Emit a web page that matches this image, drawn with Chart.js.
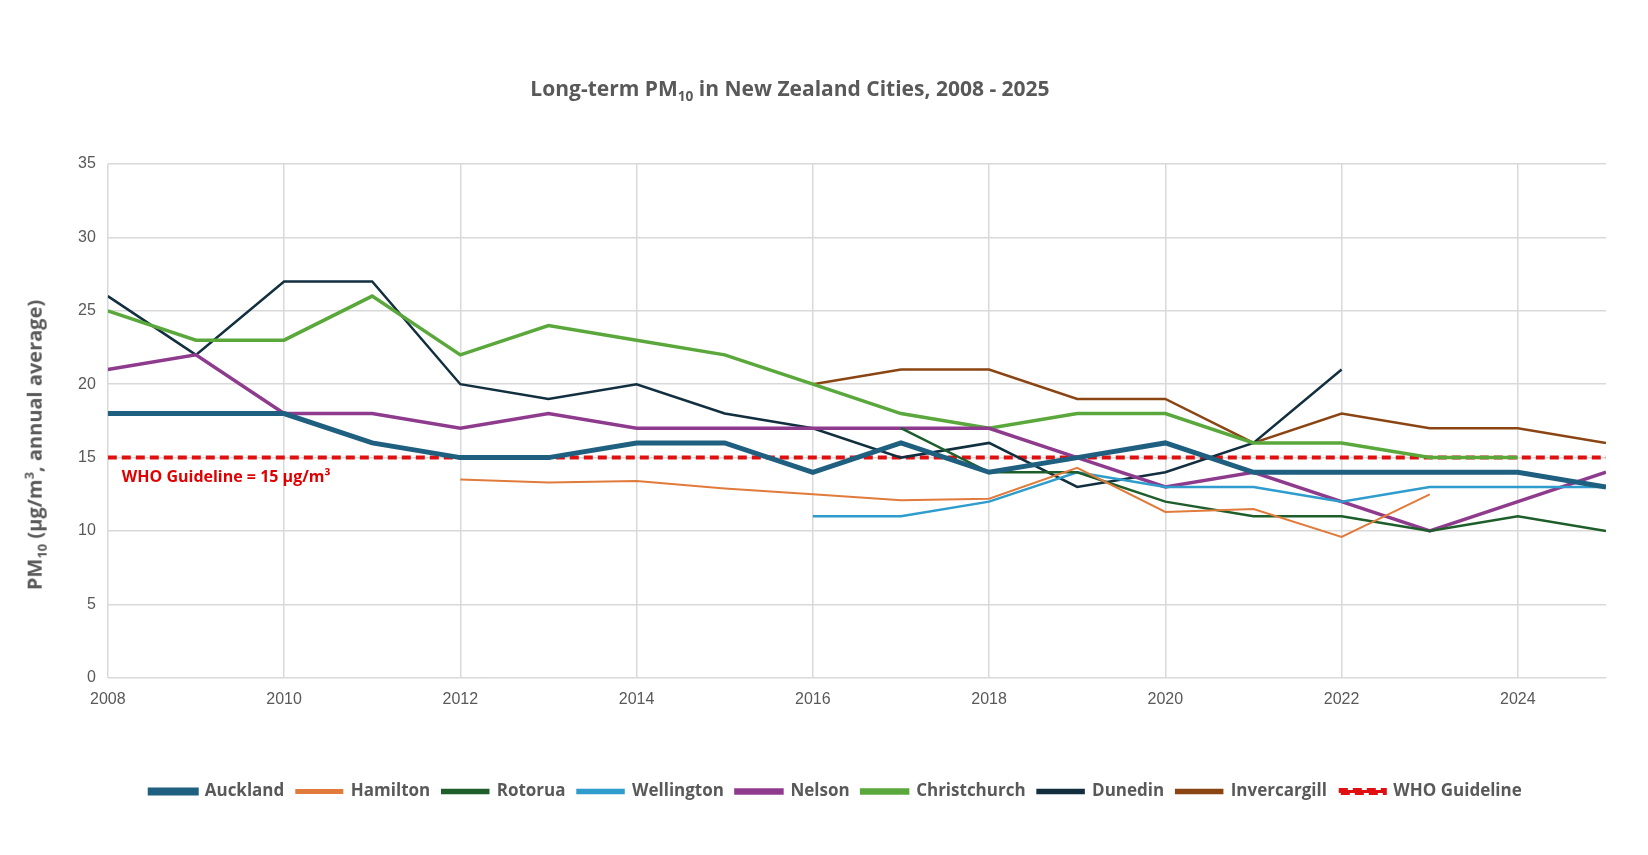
<!DOCTYPE html>
<html><head><meta charset="utf-8">
<script src="https://cdn.jsdelivr.net/npm/chart.js@4"></script>
<style>
body{margin:0;background:#fff;font-family:"Open Sans",sans-serif;}
#wrap{position:relative;width:1648px;height:855px;}
#title{position:absolute;top:74px;left:0;width:1580px;text-align:center;font-size:21px;font-weight:bold;color:#595959;}
#ytitle{position:absolute;left:35px;top:445px;transform:translate(-50%,-50%) rotate(-90deg);white-space:nowrap;font-size:20px;font-weight:bold;color:#595959;}
sub,sup{font-size:65%;}
</style></head><body>
<div id="wrap">
<canvas id="c" width="1648" height="855"></canvas>
<div id="title">Long-term PM<sub>10</sub> in New Zealand Cities, 2008 - 2025</div>
<div id="ytitle">PM<sub>10</sub> (µg/m<sup>3</sup>, annual average)</div>
</div>
<script>
const years=[2008,2009,2010,2011,2012,2013,2014,2015,2016,2017,2018,2019,2020,2021,2022,2023,2024,2025];
const auckland=[18,18,18,16,15,15,16,16,14,16,14,15,16,14,14,14,14,13];
const hamilton=[null,null,null,null,13.5,13.3,13.4,12.9,12.5,12.1,12.2,14.3,11.3,11.5,9.6,12.5,null,null];
const rotorua=[null,null,null,null,null,null,null,null,null,17,14,14,12,11,11,10,11,10];
const wellington=[null,null,null,null,null,null,null,null,11,11,12,14,13,13,12,13,13,13];
const nelson=[21,22,18,18,17,18,17,17,17,17,17,15,13,14,12,10,12,14];
const christchurch=[25,23,23,26,22,24,23,22,20,18,17,18,18,16,16,15,15,null];
const dunedin=[26,22,27,27,20,19,20,18,17,15,16,13,14,16,21,null,null,null];
const invercargill=[null,null,null,null,null,null,null,null,20,21,21,19,19,16,18,17,17,16];
const who=years.map(()=>15);
const yTicks=[0,5,10,15,20,25,30,35];
const xTicks=[2008,2010,2012,2014,2016,2018,2020,2022,2024];
const pts=a=>a.map((v,i)=>({x:years[i],y:v}));
const ds=(label,data,color,w,extra={})=>Object.assign({label,data:pts(data),borderColor:color,backgroundColor:color,borderWidth:w,pointRadius:0,tension:0,spanGaps:false},extra);
const annot={id:'annot',afterDatasetsDraw(ch){const c=ch.ctx,x=ch.scales.x,y=ch.scales.y;c.save();c.fillStyle='#e00000';c.font='bold 16px "Open Sans"';c.textBaseline='middle';c.fillText('WHO Guideline = 15 µg/m³',x.getPixelForValue(2008)+14,y.getPixelForValue(15)+20);c.restore();}};
new Chart(document.getElementById('c'),{type:'line',
data:{datasets:[
ds('Auckland',auckland,'#1f5f7f',5),
ds('Hamilton',hamilton,'#e07b3c',2),
ds('Rotorua',rotorua,'#1e5e2a',2.5),
ds('Wellington',wellington,'#2e9ccc',2.5),
ds('Nelson',nelson,'#8e3b8e',3.5),
ds('Christchurch',christchurch,'#5aa83c',3.5),
ds('Dunedin',dunedin,'#112f3f',2.5),
ds('Invercargill',invercargill,'#8b4513',2.5),
ds('WHO Guideline',who,'#e01010',4,{borderDash:[9,5]})
]},
options:{responsive:false,animation:false,
layout:{padding:{left:66,right:42,top:164,bottom:45}},
plugins:{legend:{position:'bottom',labels:{boxWidth:46,boxHeight:3,padding:12,color:'#595959',font:{size:17,weight:'bold',family:'"Open Sans"'}}},title:{display:false}},
scales:{
x:{type:'linear',min:2008,max:2025,afterBuildTicks:s=>{s.ticks=xTicks.map(v=>({value:v}));},ticks:{color:'#595959',font:{size:16},padding:12,callback:v=>String(v)},grid:{color:'#d9d9d9',lineWidth:1.5,drawTicks:false},border:{color:'#d9d9d9'},afterFit:s=>{s.height+=50;}},
y:{min:0,max:35,afterBuildTicks:s=>{s.ticks=yTicks.map(v=>({value:v}));},ticks:{color:'#595959',font:{size:16},padding:12},grid:{color:'#d9d9d9',lineWidth:1.5,drawTicks:false},border:{display:false}}
}},plugins:[annot]});
</script></body></html>
